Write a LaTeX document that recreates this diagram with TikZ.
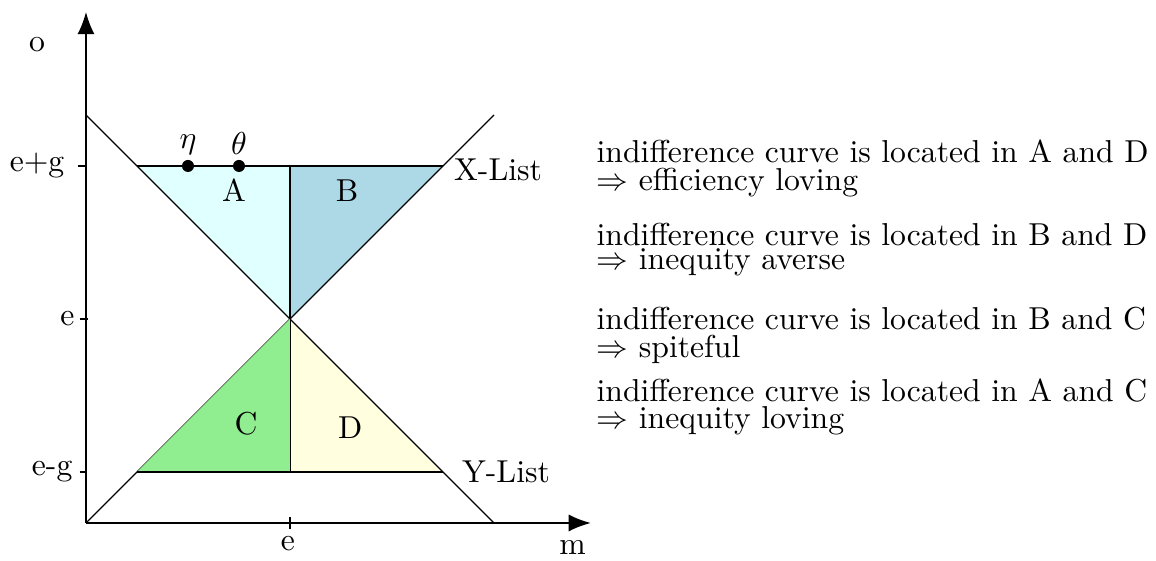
\documentclass[tikz,border=0pt]{standalone}
\usetikzlibrary{arrows.meta}
\definecolor{areaA}{RGB}{224,255,255}
\definecolor{areaB}{RGB}{173,216,230}
\definecolor{areaC}{RGB}{144,238,144}
\definecolor{areaD}{RGB}{255,255,224}
\begin{document}
\begin{tikzpicture}[x=1.131cm,y=1.131cm,
  axis/.style={semithick,-{Latex[length=7pt,width=5.4pt]}},
  ticklab/.style={anchor=east,inner sep=0pt},
  note/.style={anchor=west,inner sep=0pt,align=left}]
\useasboundingbox (-0.843,-0.363) rectangle (10.49,5.127);
\coordinate (O) at (0,0);
\coordinate (ctr) at (2,2);
\coordinate (tl) at (0.5,3.5);
\coordinate (tm) at (2,3.5);
\coordinate (tr) at (3.5,3.5);
\coordinate (bl) at (0.5,0.5);
\coordinate (bm) at (2,0.5);
\coordinate (br) at (3.5,0.5);
\coordinate (ytop) at (0,4);
\coordinate (xend) at (4,0);
\coordinate (xyend) at (4,4);
\coordinate (yax) at (0,5.01);
\coordinate (xax) at (4.95,0);
\coordinate (eta) at (1,3.5);
\coordinate (theta) at (1.5,3.5);
% areas
\fill[areaA] (tl) -- (tm) -- (ctr) -- cycle;
\fill[areaB] (tm) -- (tr) -- (ctr) -- cycle;
\fill[areaD] (bm) -- (br) -- (ctr) -- cycle;
% lists and borders
\draw (ytop) -- (xend);
\draw (O) -- (xyend);
\draw (tl) -- (tr);
\draw (tm) -- (bm);
\fill[areaC] (bl) -- (bm) -- (ctr) -- cycle;
\draw (bl) -- (br);
% axes
\draw[axis] (O) -- (yax);
\draw[axis] (O) -- (xax);
\node (olab) at (-0.48,4.69) {o};
\node (mlab) at (4.77,-0.245) {m};
\draw ([xshift=-2.4pt]0,3.5) -- ([xshift=0.3pt]0,3.5);
\draw ([xshift=-2.0pt]0,2) -- ([xshift=0.6pt]0,2);
\draw ([xshift=-2.0pt]0,0.5) -- ([xshift=0.3pt]0,0.5);
\draw ([yshift=-2.0pt]2,0) -- ([yshift=2.0pt]2,0);
\node[ticklab] (egp) at (-0.206,3.5) {e+g};
\node[ticklab] (elab) at (-0.108,2) {e};
\node[ticklab] (egm) at (-0.127,0.5) {e-g};
\node (ebot) at (1.98,-0.2) {e};
% points
\fill (eta) circle (1.9pt) node[above] {$\eta$};
\fill (theta) circle (1.9pt) node[above] {$\theta$};
\node (A) at (1.45,3.26) {A};
\node (B) at (2.56,3.26) {B};
\node (C) at (1.57,0.97) {C};
\node (D) at (2.59,0.93) {D};
\node[right] (xl) at ([yshift=-1.2pt]tr) {X-List};
\node[right] (yl) at ([xshift=2.5pt]br) {Y-List};
% interpretation
\node[note] (r1) at (5.0,3.475) {indifference curve is located in A and D\\[-3pt]$\Rightarrow$ efficiency loving};
\node[note] (r2) at (5.0,2.68) {indifference curve is located in B and D\\[-4.5pt]$\Rightarrow$ inequity averse};
\node[note] (r3) at (5.0,1.84) {indifference curve is located in B and C\\[-3pt]$\Rightarrow$ spiteful};
\node[note] (r4) at (5.0,1.14) {indifference curve is located in A and C\\[-3.5pt]$\Rightarrow$ inequity loving};
\end{tikzpicture}
\end{document}
